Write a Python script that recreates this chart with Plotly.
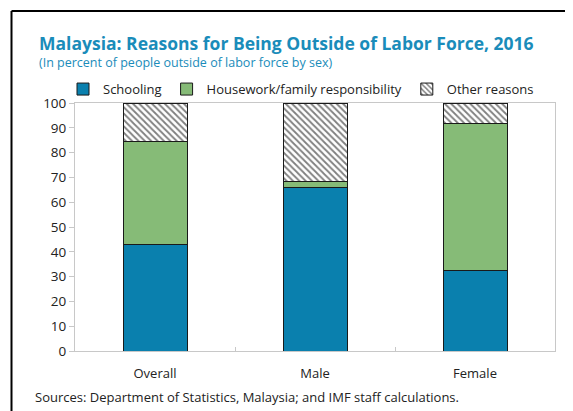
import plotly.graph_objects as go

categories = ["Overall", "Male", "Female"]
schooling = [43.0, 65.9, 32.5]
housework = [41.4, 2.6, 59.2]
other = [15.6, 31.5, 8.3]

FONT = "Segoe UI, Open Sans, sans-serif"
BLUE_T = "#1A8CBA"

fig = go.Figure()
fig.add_trace(go.Bar(
    x=categories, y=schooling, name="Schooling", width=0.4,
    marker=dict(color="#0A80AE", line=dict(color="#1a1a1a", width=1)),
))
fig.add_trace(go.Bar(
    x=categories, y=housework, name="Housework/family responsibility", width=0.4,
    marker=dict(color="#86BB77", line=dict(color="#1a1a1a", width=1)),
))
fig.add_trace(go.Bar(
    x=categories, y=other, name="Other reasons", width=0.4,
    marker=dict(color="white", line=dict(color="#1a1a1a", width=1),
                pattern=dict(shape="\\", fgcolor="black", bgcolor="white",
                             size=4.5, solidity=0.4)),
))

# the page body has an 8px margin, so the figure is 8px smaller than the window
fig.update_layout(
    barmode="stack",
    width=565, height=403,
    margin=dict(l=67, r=18, t=95, b=60),
    paper_bgcolor="white", plot_bgcolor="white",
    font=dict(family=FONT, size=13, color="#222"),
    showlegend=True,
    legend=dict(orientation="h", x=-0.025, xanchor="left", y=1.056, yanchor="middle",
                font=dict(size=13), traceorder="normal",
                bgcolor="rgba(0,0,0,0)"),
    xaxis=dict(showline=True, linecolor="#C8C8C8", mirror=True, ticks="inside",
               tickson="boundaries", ticklen=4, tickcolor="#C8C8C8",
               tickfont=dict(size=13), ticklabelstandoff=10),
    yaxis=dict(range=[0, 100], dtick=10, showgrid=False, showline=True,
               linecolor="#C8C8C8", mirror=True, ticks="outside", ticklen=5,
               tickcolor="#C8C8C8", tickfont=dict(size=13.5), zeroline=False),
)

fig.add_annotation(text="<b>Malaysia: Reasons for Being Outside of Labor Force, 2016</b>",
                   xref="paper", yref="paper", x=-0.08, y=(351 - 43) / 248,
                   xanchor="left", yanchor="middle", showarrow=False,
                   font=dict(size=17.5, color=BLUE_T, family=FONT))
fig.add_annotation(text="(In percent of people outside of labor force by sex)",
                   xref="paper", yref="paper", x=-0.08, y=(351 - 62.5) / 248,
                   xanchor="left", yanchor="middle", showarrow=False,
                   font=dict(size=12.5, color=BLUE_T, family=FONT))
fig.add_annotation(text="Sources: Department of Statistics, Malaysia; and IMF staff calculations.",
                   xref="paper", yref="paper", x=-0.087, y=(351 - 397) / 248,
                   xanchor="left", yanchor="middle", showarrow=False,
                   font=dict(size=13, color="#222", family=FONT))

# outer frame (top and left edges)
fig.add_shape(type="line", xref="paper", yref="paper",
              x0=(11.5 - 75) / 480, x1=(573 - 75) / 480,
              y0=(351 - 11) / 248, y1=(351 - 11) / 248,
              line=dict(color="black", width=2))
fig.add_shape(type="line", xref="paper", yref="paper",
              x0=(11.5 - 75) / 480, x1=(11.5 - 75) / 480,
              y0=(351 - 11) / 248, y1=(351 - 415) / 248,
              line=dict(color="black", width=2))

fig.write_html("out.html")
